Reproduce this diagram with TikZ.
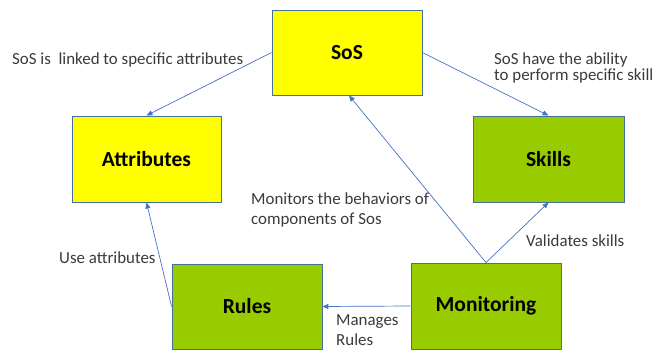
\documentclass[tikz,border=0pt]{standalone}
\usepackage{fontspec}
\setmainfont{Carlito}
\usetikzlibrary{arrows.meta}
\definecolor{boxyellow}{HTML}{FFFF00}
\definecolor{boxgreen}{HTML}{99CC00}
\definecolor{boxline}{HTML}{41719C}
\definecolor{arrowblue}{HTML}{4472C4}
\definecolor{labelgray}{HTML}{3A3A3A}
\tikzset{
  box/.style={draw=boxline, line width=0.9pt, minimum width=150pt, minimum height=85pt,
    inner sep=0pt, font=\fontsize{21.5}{25}\selectfont\bfseries, text=black},
  ybox/.style={box, fill=boxyellow},
  gbox/.style={box, fill=boxgreen},
  conn/.style={draw=arrowblue, line width=0.7pt, -{Triangle[length=6pt,width=5pt]}},
  lbl/.style={inner sep=0pt, anchor=west, align=left, text=labelgray}
}
\begin{document}
\begin{tikzpicture}[x=1pt,y=-1pt]
\useasboundingbox (0,0) rectangle (653,350);
\node[ybox, minimum width=150pt, minimum height=85pt] (sos) at (347,52.5) {SoS};
\node[ybox, minimum width=149pt, minimum height=86pt] (attr) at (146.5,159) {Attributes};
\node[gbox, minimum width=151pt, minimum height=86pt] (skills) at (548.5,159) {Skills};
\node[gbox, minimum width=150pt, minimum height=85pt] (rules) at (247,306.5) {Rules};
\node[gbox, minimum width=150pt, minimum height=86pt] (mon) at (486,306) {Monitoring};

\draw[conn] (sos.west) -- (attr.north);
\draw[conn] (sos.east) -- (skills.north);
\draw[conn] (mon.north) -- ([xshift=2pt]sos.south);
\draw[conn] (mon.north) -- (skills.south);
\draw[conn] (rules.west) -- (attr.south);
\draw[conn] (mon.west) -- (rules.east);

\node[lbl, font=\fontsize{16.9}{20}\selectfont] (l1) at (12,60) {SoS is\ \ linked to specific attributes};
\node[lbl, font=\fontsize{16.9}{16}\selectfont] (l2) at (494,67.5) {SoS have the ability\\to perform specific skill};
\node[lbl, font=\fontsize{16.9}{20}\selectfont] (l3) at (251,210) {Monitors the behaviors of\\components of Sos};
\node[lbl, font=\fontsize{16.9}{20}\selectfont] (l4) at (59,258) {Use attributes};
\node[lbl, font=\fontsize{16.9}{20}\selectfont] (l5) at (526,241) {Validates skills};
\node[lbl, font=\fontsize{16.9}{20}\selectfont] (l6) at (336,330.5) {Manages\\Rules};
\end{tikzpicture}
\end{document}
